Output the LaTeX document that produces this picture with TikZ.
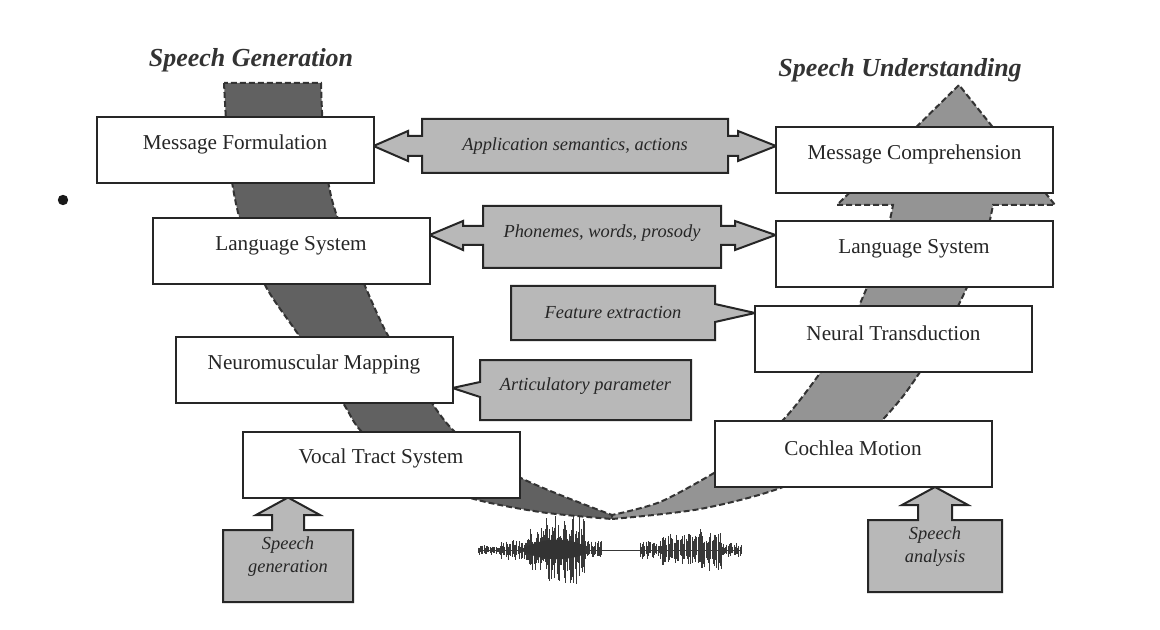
\documentclass[tikz,border=0pt]{standalone}
\usepackage{fontspec}
\setmainfont{Liberation Serif}
\usetikzlibrary{calc}
\pgfdeclarelayer{bandlayer}
\pgfdeclarelayer{calloutlayer}
\pgfsetlayers{bandlayer,calloutlayer,main}

\tikzset{
  box/.style={draw=black!85, fill=white, line width=1pt, minimum width=138.5pt,
    minimum height=33pt, inner sep=0pt, outer sep=0pt},
  boxtext/.style={font=\fontsize{10.6}{12.7}\selectfont, text=black!85, inner sep=0pt},
  title/.style={font=\fontsize{13}{15}\selectfont\bfseries\itshape, text=black!80, inner sep=0pt},
  calloutbody/.style={inner sep=0pt, outer sep=0pt, font=\fontsize{9.2}{11.5}\selectfont\itshape,
    text=black!85, align=center},
  callouttext/.style={inner sep=0pt, font=\fontsize{9.2}{11.5}\selectfont\itshape,
    text=black!85, align=center},
  callout/.style={fill=black!28, draw=black!85, line width=1pt, line join=miter},
  leftband/.style={fill=black!62, draw=black!80, line width=1pt, dash pattern=on 3pt off 1.5pt},
  rightband/.style={fill=black!42, draw=black!80, line width=1pt, dash pattern=on 3pt off 1.5pt},
  wave/.style={draw=black!78, line width=0.45pt},
}

\begin{document}
\begin{tikzpicture}[x=0.5pt, y=-0.5pt]
\useasboundingbox (0,0) rectangle (1160,630);

% ---------- titles ----------
\node[title] (tgen) at (251,60) {Speech Generation};
\node[title] (tund) at (900,70) {Speech Understanding};

% ---------- processing boxes: generation side ----------
\node[box] (mf) at (235,150) {};
\node[boxtext] (mft) at ([yshift=3pt]mf.center) {Message Formulation};
\node[box] (lsl) at (291,251.5) {};
\node[boxtext] (lslt) at ([yshift=3pt]lsl.center) {Language System};
\node[box] (nm) at (314,370) {};
\node[boxtext] (nmt) at ([yshift=3pt]nm.center) {Neuromuscular Mapping};
\node[box] (vt) at (381,464.5) {};
\node[boxtext] (vtt) at ([yshift=3pt]vt.center) {Vocal Tract System};

% ---------- processing boxes: understanding side ----------
\node[box] (mc) at (914.5,160) {};
\node[boxtext] (mct) at ([yshift=3pt]mc.center) {Message Comprehension};
\node[box] (lsr) at (914,254.5) {};
\node[boxtext] (lsrt) at ([yshift=3pt]lsr.center) {Language System};
\node[box] (nt) at (893.5,339) {};
\node[boxtext] (ntt) at ([yshift=3pt]nt.center) {Neural Transduction};
\node[box] (cm) at (853,454) {};
\node[boxtext] (cmt) at ([yshift=3pt]cm.center) {Cochlea Motion};

% ---------- grey callouts ----------
\node[calloutbody, minimum width=153pt, minimum height=27pt] (app) at (575,146)
  {Application semantics, actions};
\node[calloutbody, minimum width=119pt, minimum height=31pt] (pho) at (602,237) {};
\node[callouttext] (phot) at ([yshift=2pt]pho.center) {Phonemes, words, prosody};
\node[calloutbody, minimum width=102pt, minimum height=27pt] (fe) at (613,313)
  {Feature extraction};
\node[calloutbody, minimum width=105.5pt, minimum height=30pt] (ap) at (585.5,390) {};
\node[callouttext] (apt) at ([yshift=2pt]ap.center) {Articulatory parameter};
\node[calloutbody, minimum width=65pt, minimum height=36pt] (sg) at (288,566) {};
\node[callouttext] (sgt) at ([yshift=4.75pt]sg.center) {Speech\\generation};
\node[calloutbody, minimum width=67pt, minimum height=36pt] (sa) at (935,556) {};
\node[callouttext] (sat) at ([yshift=4.75pt]sa.center) {Speech\\analysis};

\begin{pgfonlayer}{calloutlayer}
  % two-way arrow between the message levels
  \filldraw[callout] (app.north west) -- (app.north east)
    -- ($(app.east)+(0,-10)$) -- ($(app.east)+(10,-10)$) -- ($(app.east)+(10,-15)$)
    -- (mc.west |- app.east)
    -- ($(app.east)+(10,15)$) -- ($(app.east)+(10,10)$) -- ($(app.east)+(0,10)$)
    -- (app.south east) -- (app.south west)
    -- ($(app.west)+(0,10)$) -- ($(app.west)+(-14,10)$) -- ($(app.west)+(-14,15)$)
    -- (mf.east |- app.west)
    -- ($(app.west)+(-14,-15)$) -- ($(app.west)+(-14,-10)$) -- ($(app.west)+(0,-10)$)
    -- cycle;
  % two-way arrow between the language systems
  \filldraw[callout] (pho.north west) -- (pho.north east)
    -- ($(pho.east)+(0,-11)$) -- ($(pho.east)+(14,-11)$) -- ($(pho.east)+(14,-16)$)
    -- ($(lsr.west |- pho.east)+(0,-2)$)
    -- ($(pho.east)+(14,13)$) -- ($(pho.east)+(14,8)$) -- ($(pho.east)+(0,8)$)
    -- (pho.south east) -- (pho.south west)
    -- ($(pho.west)+(0,8)$) -- ($(pho.west)+(-20,8)$) -- ($(pho.west)+(-20,13)$)
    -- ($(lsl.east |- pho.west)+(0,-2)$)
    -- ($(pho.west)+(-20,-16)$) -- ($(pho.west)+(-20,-11)$) -- ($(pho.west)+(0,-11)$)
    -- cycle;
  % pointer to the neural transduction
  \filldraw[callout] (fe.north west) -- (fe.north east) -- ($(fe.east)+(0,-9)$)
    -- (nt.west |- fe.east) -- ($(fe.east)+(0,9)$) -- (fe.south east)
    -- (fe.south west) -- cycle;
  % pointer to the neuromuscular mapping
  \filldraw[callout] (ap.north east) -- (ap.north west) -- ($(ap.west)+(0,-8)$)
    -- ($(nm.east |- ap.west)+(0,-2)$) -- ($(ap.west)+(0,7)$) -- (ap.south west)
    -- (ap.south east) -- cycle;
  % speech generation input arrow
  \filldraw[callout] (sg.south west) -- (sg.north west)
    -- ($(sg.north)+(-16,0)$) -- ($(sg.north)+(-16,-15)$) -- ($(sg.north)+(-32,-15)$)
    -- (sg.north |- vt.south)
    -- ($(sg.north)+(32,-15)$) -- ($(sg.north)+(16,-15)$) -- ($(sg.north)+(16,0)$)
    -- (sg.north east) -- (sg.south east) -- cycle;
  % speech analysis input arrow
  \filldraw[callout] (sa.south west) -- (sa.north west)
    -- ($(sa.north)+(-17,0)$) -- ($(sa.north)+(-17,-15)$) -- ($(sa.north)+(-33,-15)$)
    -- (sa.north |- cm.south)
    -- ($(sa.north)+(33,-15)$) -- ($(sa.north)+(17,-15)$) -- ($(sa.north)+(17,0)$)
    -- (sa.north east) -- (sa.south east) -- cycle;
\end{pgfonlayer}

% ---------- curved flow bands behind the boxes ----------
\begin{pgfonlayer}{bandlayer}
  \fill[white] (0,0) rectangle (1160,630);
  % generation: downward band
  \filldraw[leftband]
    plot[smooth] coordinates {(224,83) (229,160) (240,220) (265,285) (300,337) (343,403)
      (362,432) (410,470) (467,497) (540,512) (612,519)}
    -- plot[smooth] coordinates {(612,515) (519,477) (455,432) (420,385) (385,330)
      (350,250) (332,200) (324,150) (321,83)}
    -- cycle;
  % understanding: upward band with arrow head
  \filldraw[rightband]
    plot[smooth] coordinates {(612,519) (700,509) (783,487) (850,450) (900,400)
      (940,340) (968,285) (985,240) (993,205)}
    -- (1055,205) -- (959,85) -- (837,205)
    -- plot[smooth] coordinates {(893,205) (885,240) (868,285) (845,335) (815,380)
      (782,421) (740,455) (714,473) (660,502) (612,515)}
    -- cycle;
\end{pgfonlayer}

% ---------- acoustic waveform ----------
\pgfmathsetseed{42}
\draw[wave] (478,550) -- (742,550);
\foreach \xa/\xb/\amp in {478/500/5, 500/528/10, 528/545/22, 545/585/34, 585/602/9,
    640/662/9, 662/700/16, 700/722/22, 722/742/7}{
  \pgfmathsetmacro\xs{\xa+1.2}
  \foreach \x in {\xa,\xs,...,\xb}{
    \pgfmathsetmacro\up{\amp*(0.3+0.7*rnd)}
    \pgfmathsetmacro\dn{\amp*(0.3+0.7*rnd)}
    \draw[wave] (\x,{550-\up}) -- (\x,{550+\dn});
  }
}
% dense core of the louder syllable
\fill[black!80] (520,550) .. controls (540,538) and (565,536) .. (585,546)
  -- (585,554) .. controls (565,562) and (540,561) .. (520,550) -- cycle;

% ---------- list bullet ----------
\fill[black!90] (63,200) circle (2.6pt);

\end{tikzpicture}
\end{document}
